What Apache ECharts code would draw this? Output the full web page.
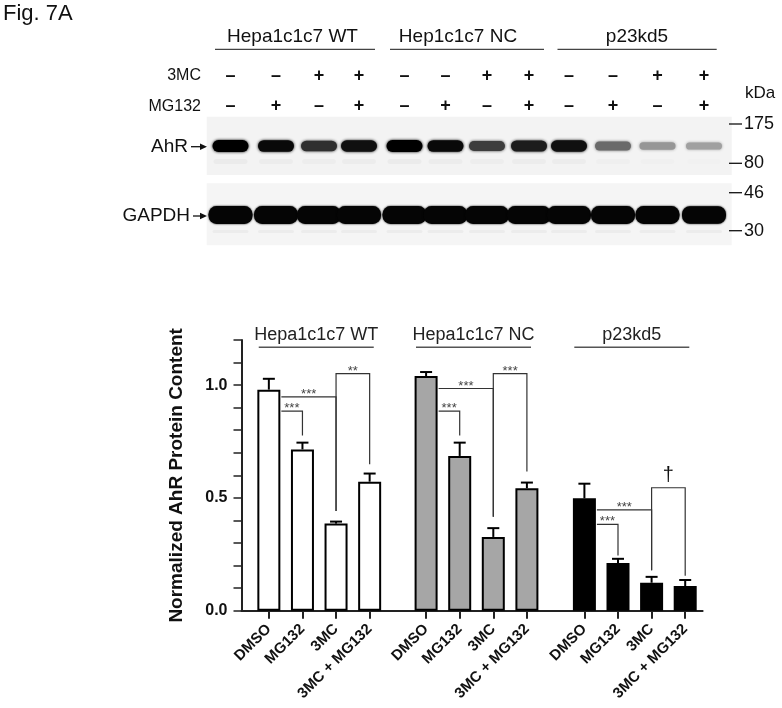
<!DOCTYPE html>
<html><head><meta charset="utf-8">
<script src="https://cdn.jsdelivr.net/npm/echarts@6/dist/echarts.min.js"></script>
<style>html,body{margin:0;padding:0;background:#fff}#c{width:782px;height:708px}</style>
</head><body><div id="c"></div>
<script>
// ---------------- data ----------------
const categories = ['DMSO', 'MG132', '3MC', '3MC + MG132'];
const groupNames = ['Hepa1c1c7 WT', 'Hepa1c1c7 NC', 'p23kd5'];
const wtMean = [0.980, 0.715, 0.386, 0.572];
const wtSem  = [0.048, 0.030, 0.009, 0.036];
const ncMean = [1.040, 0.686, 0.327, 0.543];
const ncSem  = [0.018, 0.059, 0.039, 0.025];
const kdMean = [0.498, 0.212, 0.124, 0.109];
const kdSem  = [0.065, 0.018, 0.026, 0.027];
const yTickLabels = ['0.0', '0.5', '1.0'];
// significance brackets: [fromBar, toBar, level, leftDrop (null = from bar edge), rightDrop, label]
const wtBrackets = [[0, 1, 0.885, null, 0.777, '***'], [0, 2, 0.948, null, 0.442, '***'], [2, 3, 1.051, 0.442, 0.649, '**']];
const ncBrackets = [[0, 1, 0.885, null, 0.777, '***'], [0, 2, 0.985, null, 0.416, '***'], [2, 3, 1.051, 0.416, 0.617, '***']];
const kdBrackets = [[0, 1, 0.383, null, 0.245, '***'], [0, 2, 0.447, null, 0.179, '***'], [2, 3, 0.545, 0.179, 0.155, '\u2020']];

// western blot
const blotGroups = ['Hepa1c1c7 WT', 'Hep1c1c7 NC', 'p23kd5'];
const treatRows  = ['3MC', 'MG132'];
const mc3Signs   = ['\u2013', '\u2013', '+', '+', '\u2013', '\u2013', '+', '+', '\u2013', '\u2013', '+', '+'];
const mg132Signs = ['\u2013', '+', '\u2013', '+', '\u2013', '+', '\u2013', '+', '\u2013', '+', '\u2013', '+'];
const ahrBand    = [1.00, 0.96, 0.80, 0.93, 1.00, 0.96, 0.74, 0.88, 0.93, 0.55, 0.36, 0.32];
const gapdhBand  = [1, 1, 1, 1, 1, 1, 1, 1, 1, 1, 1, 0.97];
const kdaMarkers = ['175', '80', '46', '30'];

// ---------------- layout / style ----------------
const FONT = 'Liberation Sans, Arial, sans-serif';
const GRID_TOP = 340, GRID_BOTTOM = 97.3;
const MAIN_LEFT = 241.5, MAIN_RIGHT = 79.4;
const GROUP_W = 134.4;
const groupLeft = [252.05, 409.3, 567.6];
const BAR_W = 23;
const barColors = ['#ffffff', '#a6a6a6', '#000000'];
const means = [wtMean, ncMean, kdMean];
const sems = [wtSem, ncSem, kdSem];
const brackets = [wtBrackets, ncBrackets, kdBrackets];

const laneX = [230.5, 276, 319, 359, 404.5, 445.5, 487, 529, 569, 613, 657.5, 704];
const blotTitleSpan = [[215, 375], [390, 544], [557.5, 716.7]];
const blotTitleX = [292.5, 458, 637];
const rowY = [76, 106.5];
const markerY = [124, 163.3, 192.7, 230.7];

function txt(x, y, text, size, opts) {
  opts = opts || {};
  return {
    type: 'text', silent: true, z: 10,
    style: {
      x: x, y: y, text: text,
      font: (opts.weight || 'normal') + ' ' + size + 'px ' + FONT,
      fill: opts.color || '#111',
      align: opts.align || 'center', textAlign: opts.align || 'center',
      verticalAlign: opts.va || 'middle', textVerticalAlign: opts.va || 'middle'
    }
  };
}
function line(x1, y1, x2, y2, w, c) {
  return { type: 'line', silent: true, z: 10, shape: { x1: x1, y1: y1, x2: x2, y2: y2 },
    style: { stroke: c || '#111', lineWidth: w || 1 } };
}

const g = [];
g.push(txt(3, 14, 'Fig. 7A', 22, { align: 'left' }));
blotGroups.forEach((name, i) => {
  g.push(txt(blotTitleX[i], 37, name, 19));
  g.push(line(blotTitleSpan[i][0], 49.3, blotTitleSpan[i][1], 49.3, 1.3, '#444'));
});
treatRows.forEach((name, r) => g.push(txt(201, rowY[r], name, 16, { align: 'right' })));
laneX.forEach((x, i) => {
  g.push(txt(x, rowY[0], mc3Signs[i], 18, { weight: 'bold' }));
  g.push(txt(x, rowY[1], mg132Signs[i], 18, { weight: 'bold' }));
});
g.push(txt(760, 93.3, 'kDa', 17));
// blot panels
g.push({ type: 'rect', silent: true, z: 1, shape: { x: 206.7, y: 116.7, width: 525, height: 58.3 }, style: { fill: '#f3f3f3' } });
g.push({ type: 'rect', silent: true, z: 1, shape: { x: 206.7, y: 183.3, width: 525, height: 62 }, style: { fill: '#f5f5f5' } });
laneX.forEach((x, i) => {
  const a = ahrBand[i];
  const h = 5 + 7 * a;
  const lvl = Math.round(235 * (1 - a));
  const col = 'rgb(' + lvl + ',' + lvl + ',' + lvl + ')';
  g.push({ type: 'rect', silent: true, z: 3, shape: { x: x - 18, y: 146 - h / 2, width: 36, height: h, r: h / 2 },
    style: { fill: col, shadowBlur: 3, shadowColor: col } });
  // faint secondary band
  g.push({ type: 'rect', silent: true, z: 2, shape: { x: x - 17, y: 159, width: 34, height: 5, r: 2.5 },
    style: { fill: 'rgba(0,0,0,' + (0.03 * a) + ')', shadowBlur: 3, shadowColor: 'rgba(0,0,0,0.03)' } });
  const gb = gapdhBand[i];
  const gh = 18 * gb;
  g.push({ type: 'rect', silent: true, z: 3, shape: { x: x - 22, y: 215 - gh / 2, width: 44, height: gh, r: gh / 2.2 },
    style: { fill: '#050505', shadowBlur: 2, shadowColor: '#000' } });
  g.push({ type: 'rect', silent: true, z: 2, shape: { x: x - 18, y: 230, width: 36, height: 3, r: 1.5 },
    style: { fill: 'rgba(0,0,0,0.035)' } });
});
// side labels with arrows
[['AhR', 146.7, 188, 191], ['GAPDH', 216, 190, 193]].forEach(d => {
  g.push(txt(d[2], d[1], d[0], 19, { align: 'right' }));
  g.push(line(d[3], d[1], 203, d[1], 1.3, '#111'));
  g.push({ type: 'polygon', silent: true, z: 10, shape: { points: [[207, d[1]], [200, d[1] - 3.2], [200, d[1] + 3.2]] }, style: { fill: '#111' } });
});
kdaMarkers.forEach((m, i) => {
  g.push(line(729, markerY[i], 742, markerY[i], 1.3, '#111'));
  g.push(txt(744, markerY[i], m, 18, { align: 'left' }));
});
// chart group titles
groupLeft.forEach((l, i) => {
  const c = l + GROUP_W / 2 - 3;
  g.push(txt(c, 335.5, groupNames[i], 18, { color: '#222' }));
  g.push(line(c - 57.5, 347.3, c + 57.5, 347.3, 1.5, '#555'));
});

// ---------------- chart ----------------
const grids = [{ left: MAIN_LEFT, right: MAIN_RIGHT, top: GRID_TOP, bottom: GRID_BOTTOM }];
groupLeft.forEach(l => grids.push({ left: l, width: GROUP_W, top: GRID_TOP, bottom: GRID_BOTTOM }));

const xAxes = [{
  gridIndex: 0, type: 'value', min: 0, max: 1,
  axisLine: { show: true, lineStyle: { color: '#222', width: 2 } },
  axisTick: { show: false }, axisLabel: { show: false }, splitLine: { show: false }
}];
const yAxes = [{
  gridIndex: 0, type: 'value', min: 0, max: 1.2, interval: 0.1,
  name: 'Normalized AhR Protein Content', nameLocation: 'middle', nameGap: 55,
  nameTextStyle: { fontFamily: FONT, fontWeight: 'bold', fontSize: 19, color: '#111' },
  axisLine: { show: true, lineStyle: { color: '#222', width: 2 } },
  axisTick: { show: true, length: 8, lineStyle: { color: '#222', width: 1.5 } },
  axisLabel: {
    margin: 14, fontFamily: FONT, fontWeight: 'bold', fontSize: 16, color: '#111',
    formatter: v => { const k = Math.round(v * 10); return k % 5 === 0 ? yTickLabels[k / 5] : ''; }
  },
  splitLine: { show: false }
}];
const series = [];
for (let gi = 0; gi < 3; gi++) {
  const ai = gi + 1;
  xAxes.push({
    gridIndex: ai, type: 'category', data: categories,
    axisLine: { show: false },
    axisTick: { show: true, alignWithLabel: true, length: 8, lineStyle: { color: '#222', width: 2 } },
    axisLabel: { interval: 0, rotate: 45, margin: 16, fontFamily: FONT, fontWeight: 'bold', fontSize: 15, color: '#111' }
  });
  yAxes.push({ gridIndex: ai, type: 'value', min: 0, max: 1.2, show: false, splitLine: { show: false } });
  series.push({
    type: 'bar', xAxisIndex: ai, yAxisIndex: ai, data: means[gi], barWidth: BAR_W,
    itemStyle: { color: barColors[gi], borderColor: '#000', borderWidth: 2 }, z: 3,
    emphasis: { disabled: true }
  });
  series.push({
    type: 'custom', xAxisIndex: ai, yAxisIndex: ai, z: 4,
    data: means[gi].map((m, i) => [i, m, m + sems[gi][i]]),
    encode: { x: 0, y: [1, 2] },
    renderItem: (params, api) => {
      const p0 = api.coord([api.value(0), api.value(1)]);
      const p1 = api.coord([api.value(0), api.value(2)]);
      const st = { stroke: '#000', lineWidth: 2 };
      return { type: 'group', children: [
        { type: 'line', shape: { x1: p0[0], y1: p0[1], x2: p1[0], y2: p1[1] }, style: st },
        { type: 'line', shape: { x1: p1[0] - 6, y1: p1[1], x2: p1[0] + 6, y2: p1[1] }, style: st }
      ] };
    }
  });
  const br = brackets[gi];
  series.push({
    type: 'custom', xAxisIndex: ai, yAxisIndex: ai, z: 5,
    data: br.map(b => [b[0], b[1], b[2]]),
    encode: { x: [0, 1], y: 2 },
    renderItem: (params, api) => {
      const b = br[params.dataIndex];
      const cFrom = api.coord([b[0], b[2]]);
      const cTo = api.coord([b[1], b[2]]);
      const yH = cFrom[1];
      const yR = api.coord([b[1], b[4]])[1];
      let pts, xL;
      if (b[3] === null) {
        xL = cFrom[0] + BAR_W / 2 + 1;
        pts = [[xL, yH], [cTo[0], yH], [cTo[0], yR]];
      } else {
        xL = cFrom[0];
        const yL = api.coord([b[0], b[3]])[1];
        pts = [[xL, yL], [xL, yH], [cTo[0], yH], [cTo[0], yR]];
      }
      const isDagger = b[5] === '\u2020';
      const mid = (xL + cTo[0]) / 2;
      return { type: 'group', children: [
        { type: 'polyline', shape: { points: pts }, style: { stroke: '#333', lineWidth: 1.2, fill: null } },
        { type: 'text', style: {
          x: mid, y: isDagger ? yH - 2 : yH + 4, text: b[5],
          font: (isDagger ? '20px ' : '13px ') + FONT, fill: isDagger ? '#111' : '#444',
          align: 'center', textAlign: 'center', verticalAlign: 'bottom', textVerticalAlign: 'bottom'
        } }
      ] };
    }
  });
}

const chart = echarts.init(document.getElementById('c'), null, { renderer: 'canvas' });
chart.setOption({
  animation: false,
  backgroundColor: '#fff',
  textStyle: { fontFamily: FONT },
  grid: grids, xAxis: xAxes, yAxis: yAxes, series: series,
  graphic: { elements: g }
});
</script></body></html>
